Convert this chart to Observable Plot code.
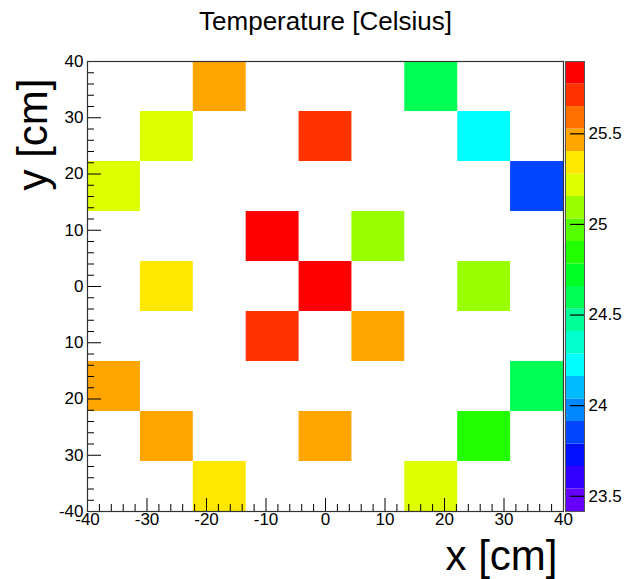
<!DOCTYPE html>
<html>
<head>
<meta charset="utf-8">
<script src="https://cdn.jsdelivr.net/npm/d3@7"></script>
<script src="https://cdn.jsdelivr.net/npm/@observablehq/plot@0.6"></script>
<style>
  html, body { margin: 0; padding: 0; background: #fff; }
  #wrap { position: relative; width: 627px; height: 579px; overflow: hidden; }
  #wrap svg { position: absolute; left: 0; top: 0; }
</style>
</head>
<body>
<div id="wrap"></div>
<script>
// ---- data ----
const binEdges = [-40, -31.11, -22.22, -13.33, -4.44, 4.44, 13.33, 22.22, 31.11, 40];
const cellCol  = [2, 6, 1, 4, 7, 0, 8, 3, 5, 1, 4, 7, 3, 5, 0, 8, 1, 4, 7, 2, 6];
const cellRow  = [8, 8, 7, 7, 7, 6, 6, 5, 5, 4, 4, 4, 3, 3, 2, 2, 1, 1, 1, 0, 0];
const cellTemp = [25.46, 24.60, 25.22, 25.72, 24.22, 25.21, 23.85, 25.85, 25.10, 25.34, 25.84,
                  25.09, 25.71, 25.47, 25.46, 24.60, 25.45, 25.47, 24.84, 25.35, 25.22];

const zMin = 23.416, zMax = 25.899;
const paletteColors = ["#6600ff", "#3300ff", "#0010ff", "#0044ff", "#0088ff", "#00bbff", "#00ffff",
  "#00ffcc", "#00ff99", "#00ff55", "#00ff22", "#22ff00", "#55ff00", "#99ff00", "#ddff00",
  "#ffe800", "#ffa500", "#ff7000", "#ff3300", "#ff0000"];

const xTicks = [-40, -30, -20, -10, 0, 10, 20, 30, 40];
const xTickLabels = ["-40", "-30", "-20", "-10", "0", "10", "20", "30", "40"];
const yTicks = [-40, -30, -20, -10, 0, 10, 20, 30, 40];
const yTickLabels = ["-40", "30", "20", "10", "0", "10", "20", "30", "40"];
const minorTicks = [-38,-36,-34,-32,-28,-26,-24,-22,-18,-16,-14,-12,-8,-6,-4,-2,2,4,6,8,12,14,16,18,22,24,26,28,32,34,36,38];
const zTicks = [23.5, 24, 24.5, 25, 25.5];

const title = "Temperature [Celsius]";
const xTitle = "x [cm]";
const yTitle = "y [cm]";

// ---- derived tables ----
const nLev = paletteColors.length;
const step = (zMax - zMin) / nLev;
const thresholds = d3.range(1, nLev).map(i => zMin + i * step);
const colorOpts = {type: "threshold", domain: thresholds, range: paletteColors};
const cells = cellTemp.map((t, k) => ({
  x1: binEdges[cellCol[k]], x2: binEdges[cellCol[k] + 1],
  y1: binEdges[cellRow[k]], y2: binEdges[cellRow[k] + 1], t
}));
const bands = paletteColors.map((c, i) => ({lo: zMin + i * step, hi: zMin + (i + 1) * step}));

const FONT = "'Liberation Sans', Arial, Helvetica, sans-serif";
const TICKFONT = 17;
const W = 627, H = 579;
const mL = 87, mR = 64, mT = 61, mB = 68;
const frameW = W - mL - mR, frameH = H - mT - mB;

const main = Plot.plot({
  width: W, height: H,
  marginLeft: mL, marginRight: mR, marginTop: mT, marginBottom: mB,
  style: {fontFamily: FONT, fontSize: TICKFONT + "px", color: "black", background: "transparent"},
  x: {domain: [-40, 40]},
  y: {domain: [-40, 40]},
  color: colorOpts,
  marks: [
    Plot.rect(cells, {x1: "x1", x2: "x2", y1: "y1", y2: "y2", fill: "t"}),
    Plot.tickX(xTicks, {x: d => d, insetTop: frameH - 13, stroke: "black", strokeWidth: 1}),
    Plot.tickX(minorTicks, {x: d => d, insetTop: frameH - 7, stroke: "black", strokeWidth: 1}),
    Plot.tickY(yTicks, {y: d => d, insetRight: frameW - 14, stroke: "black", strokeWidth: 1}),
    Plot.tickY(minorTicks, {y: d => d, insetRight: frameW - 7, stroke: "black", strokeWidth: 1}),
    Plot.frame({stroke: "#333", strokeWidth: 1.2}),
    Plot.axisX({ticks: xTicks, tickSize: 0, tickPadding: 1, fontSize: TICKFONT,
      tickFormat: d => xTickLabels[xTicks.indexOf(d)], label: null}),
    Plot.axisY({ticks: yTicks, tickSize: 0, tickPadding: 4, fontSize: TICKFONT,
      tickFormat: d => yTickLabels[yTicks.indexOf(d)], label: null}),
    Plot.text([title], {frameAnchor: "top", dy: -32, lineAnchor: "bottom", fontSize: 26, fill: "black"}),
    Plot.text([xTitle], {frameAnchor: "bottom-right", textAnchor: "end", dx: -6, dy: 58,
      lineAnchor: "bottom", fontSize: 42, fill: "black"}),
    Plot.text([yTitle], {frameAnchor: "top-left", rotate: -90, textAnchor: "end", dx: -41, dy: 17,
      lineAnchor: "bottom", fontSize: 42, fill: "black"})
  ]
});

const cbL = 565, cbR = W - 584;
const bar = Plot.plot({
  width: W, height: H,
  marginLeft: cbL, marginRight: cbR, marginTop: mT, marginBottom: mB,
  style: {fontFamily: FONT, fontSize: TICKFONT + "px", color: "black", background: "transparent"},
  x: {domain: [0, 1], axis: null},
  y: {domain: [zMin, zMax], axis: null},
  color: colorOpts,
  marks: [
    Plot.rect(bands, {x1: 0, x2: 1, y1: "lo", y2: "hi", fill: d => (d.lo + d.hi) / 2}),
    Plot.tickY(zTicks, {y: d => d, insetLeft: 5, stroke: "black", strokeWidth: 1.2}),
    Plot.frame({stroke: "#555", strokeWidth: 1}),
    Plot.axisY({anchor: "right", ticks: zTicks, tickSize: 0, tickPadding: 4, fontSize: TICKFONT,
      tickFormat: d => String(d), label: null})
  ]
});

const wrap = document.getElementById("wrap");
wrap.appendChild(main);
wrap.appendChild(bar);
</script>
</body>
</html>
